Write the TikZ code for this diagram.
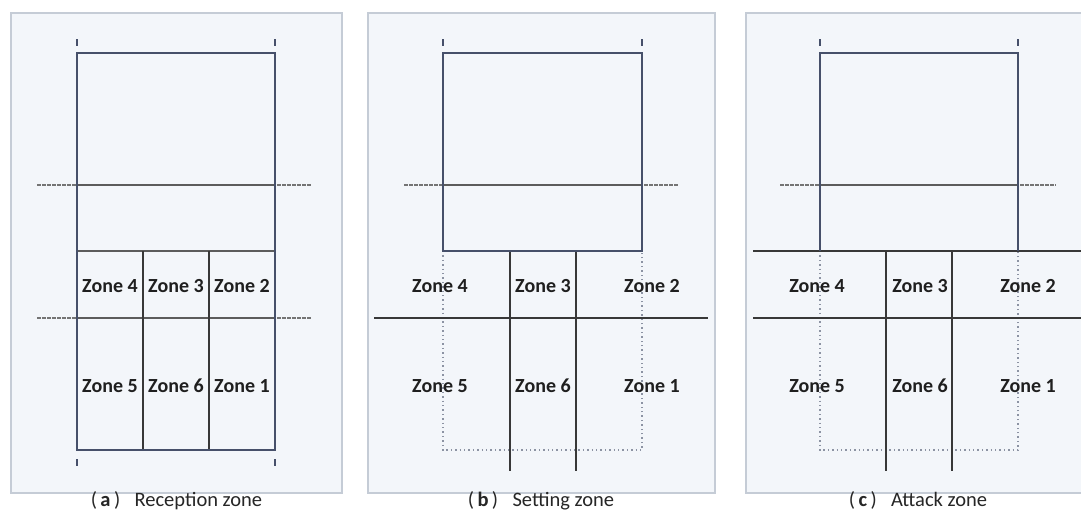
\documentclass[tikz,border=0pt]{standalone}
\usepackage{fontspec}
\setmainfont{Carlito}
\begin{document}
\begin{tikzpicture}[x=1pt,y=-1pt,
  panel/.style={draw=panelborder,line width=1.2pt,fill=panelfill},
  court/.style={draw=courtline,line width=1.8pt},
  inner/.style={draw=innerline,line width=1.8pt},
  netline/.style={draw=netgray,line width=2.5pt},
  netext/.style={draw=netgray!85,line width=2.3pt,dash pattern=on 3.5pt off 1.5pt},
  tick/.style={draw=courtline,line width=1.5pt},
  dots/.style={draw=dotgray,line width=1.2pt,dash pattern=on 1.4pt off 3pt},
  zone/.style={font=\fontsize{20}{20}\selectfont\bfseries,text=black!88,inner sep=0pt},
  caption/.style={font=\fontsize{20.5}{20.5}\selectfont,text=black!85,inner sep=0pt,anchor=base}]
\definecolor{panelfill}{HTML}{F3F6FA}
\definecolor{panelborder}{HTML}{C5CCD6}
\definecolor{courtline}{HTML}{46506A}
\definecolor{innerline}{HTML}{383838}
\definecolor{netgray}{HTML}{5C5C5C}
\definecolor{dotgray}{HTML}{8C93A3}
\useasboundingbox (0,0) rectangle (1081,512);
\fill[white] (0,0) rectangle (1081,512);

% ---------------- (a) Reception zone ----------------
\draw[panel] (11,13) rectangle (342,493);
\draw[netext] (37,185) -- (312,185);
\draw[netext] (37,318) -- (312,318);
\draw[netline] (77,185) -- (275,185);
\draw[netline] (77,318) -- (275,318);
\draw[netline] (77,251) -- (275,251);
\draw[inner] (143,251) -- (143,450);
\draw[inner] (209,251) -- (209,450);
\draw[court] (77,53) rectangle (275,450);
\foreach \x in {77,275} {
  \draw[tick] (\x,39) -- (\x,46);
  \draw[tick] (\x,459) -- (\x,466);
}
\node[zone] (a4) at (110,286) {Zone 4};
\node[zone] (a3) at (176,286) {Zone 3};
\node[zone] (a2) at (242,286) {Zone 2};
\node[zone] (a5) at (110,386) {Zone 5};
\node[zone] (a6) at (176,386) {Zone 6};
\node[zone] (a1) at (242,386) {Zone 1};
\node[caption] (capa) at (176.5,506.5) {(\,\textbf{a}\,)\hspace{0.7em}Reception zone};

% ---------------- (b) Setting zone ----------------
\draw[panel] (368,13) rectangle (715,493);
\draw[dots] (443,251) -- (443,450) -- (642,450) -- (642,251);
\draw[netext] (404,185) -- (679,185);
\draw[netline] (443,185) -- (642,185);
\draw[inner] (374,318) -- (708,318);
\draw[inner] (510,251) -- (510,471);
\draw[inner] (576,251) -- (576,471);
\draw[court] (443,53) rectangle (642,251);
\foreach \x in {443,642} {
  \draw[tick] (\x,39) -- (\x,46);
}
\node[zone] (b4) at (440,286) {Zone 4};
\node[zone] (b3) at (543,286) {Zone 3};
\node[zone] (b2) at (652,286) {Zone 2};
\node[zone] (b5) at (440,386) {Zone 5};
\node[zone] (b6) at (543,386) {Zone 6};
\node[zone] (b1) at (652,386) {Zone 1};
\node[caption] (capb) at (541,506.5) {(\,\textbf{b}\,)\hspace{0.7em}Setting zone};

% ---------------- (c) Attack zone ----------------
\begin{scope}
\clip (0,0) rectangle (1081,512);
\draw[panel] (746,13) rectangle (1090,493);
\end{scope}
\draw[dots] (820,251) -- (820,450) -- (1018,450) -- (1018,251);
\draw[netext] (780,185) -- (1056,185);
\draw[netline] (820,185) -- (1018,185);
\draw[inner] (753,251) -- (1081,251);
\draw[inner] (753,318) -- (1081,318);
\draw[inner] (886,251) -- (886,471);
\draw[inner] (952,251) -- (952,471);
\draw[court] (820,251) -- (820,53) -- (1018,53) -- (1018,251);
\foreach \x in {820,1018} {
  \draw[tick] (\x,39) -- (\x,46);
}
\node[zone] (c4) at (817,286) {Zone 4};
\node[zone] (c3) at (920,286) {Zone 3};
\node[zone] (c2) at (1028,286) {Zone 2};
\node[zone] (c5) at (817,386) {Zone 5};
\node[zone] (c6) at (920,386) {Zone 6};
\node[zone] (c1) at (1028,386) {Zone 1};
\node[caption] (capc) at (918,506.5) {(\,\textbf{c}\,)\hspace{0.7em}Attack zone};
\end{tikzpicture}
\end{document}
